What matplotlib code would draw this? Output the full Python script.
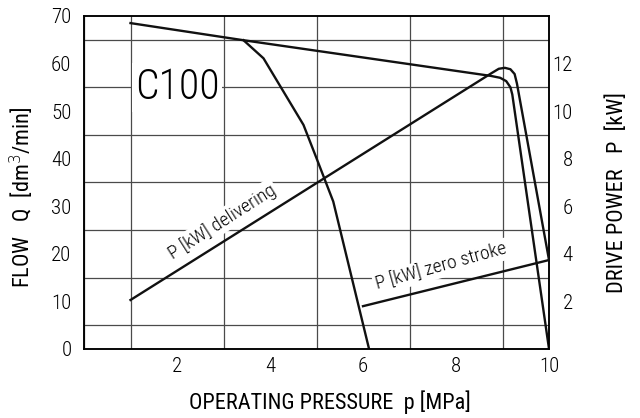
import matplotlib
matplotlib.use("Agg")
import matplotlib.pyplot as plt
import numpy as np

plt.rcParams['font.family'] = ['Roboto Condensed', 'DejaVu Sans']
plt.rcParams['font.weight'] = 'light'

# pressure p [MPa] vs flow Q [dm3/min]
q_p = [1.0, 3.43, 8.75, 8.95, 9.08, 9.17, 9.21, 10.0]
q_flow = [68.5, 64.9, 57.4, 57.0, 56.3, 55.0, 53.5, 0.0]

# constant power limit curve, flow
lim_p = [3.43, 3.86, 4.72, 5.0, 5.36, 6.13]
lim_flow = [64.9, 61.1, 47.1, 40.1, 31.0, 0.0]

# drive power P [kW], delivering
deliv_p = [1.0, 8.75, 8.92, 9.05, 9.17, 9.26, 9.31, 10.0]
deliv_kw = [2.06, 11.58, 11.78, 11.82, 11.76, 11.56, 11.16, 3.74]

# drive power P [kW], zero stroke
zero_p = [6.0, 10.0]
zero_kw = [1.8, 3.74]

fig = plt.figure(figsize=(6.4, 4.18), dpi=100)
ax = fig.add_axes([0.13125, 0.1651, 0.7266, 0.7967])
ax2 = ax.twinx()

ax.set_xlim(0, 10)
ax.set_ylim(0, 70)
ax2.set_ylim(0, 14)

ax.set_xticks([2, 4, 6, 8, 10])
ax.set_yticks(np.arange(0, 71, 10))
ax.set_xticks(np.arange(0, 11, 1), minor=True)
ax.set_yticks(np.arange(0, 71, 5), minor=True)
ax2.set_yticks([2, 4, 6, 8, 10, 12])
ax.grid(which='minor', color='#4a4a4a', lw=0.9)
ax.set_axisbelow(True)

ax.tick_params(which='both', length=0, labelsize=15)
ax.tick_params(axis='x', pad=6)
ax.tick_params(axis='y', pad=9)
ax2.tick_params(length=0, labelsize=15, pad=17)
for lbl in ax2.get_yticklabels():
    lbl.set_horizontalalignment('right')

for a in (ax, ax2):
    for s in a.spines.values():
        s.set_linewidth(1.1)
        s.set_color('black')

ax.set_xlabel('OPERATING PRESSURE  p [MPa]', fontsize=16)
ax.xaxis.set_label_coords(0.529, -0.125)
ax.set_ylabel('FLOW   Q  [dm$^3$/min]', fontsize=16)
ax.yaxis.set_label_coords(-0.104, 0.456)
ax2.set_ylabel('DRIVE POWER   P  [kW]', fontsize=16, rotation=90)
ax2.yaxis.set_label_coords(1.123, 0.47)

# white box behind the model name
ax.add_patch(plt.Rectangle((1.03, 49.9), 1.94, 10.2, facecolor='white',
                           edgecolor='none', zorder=1.5))
ax.text(2, 55, 'C100', fontsize=30, ha='center', va='center', zorder=3)

lc = '#111111'
ax.plot(q_p, q_flow, color=lc, lw=1.7, zorder=4)
ax.plot(lim_p, lim_flow, color=lc, lw=1.7, zorder=4)
ax2.plot(deliv_p, deliv_kw, color=lc, lw=1.7, zorder=4)
ax2.plot(zero_p, zero_kw, color=lc, lw=1.7, zorder=4)

box = dict(facecolor='white', edgecolor='none', pad=1.5)
ax.text(2.96, 26.8, 'P [kW] delivering', fontsize=14, rotation=32.5,
        ha='center', va='center', rotation_mode='anchor', bbox=box, zorder=2)
ax.text(7.68, 17.3, 'P [kW] zero stroke', fontsize=14, rotation=15.5,
        ha='center', va='center', rotation_mode='anchor', bbox=box, zorder=2)

fig.savefig('out.png', dpi=100)
